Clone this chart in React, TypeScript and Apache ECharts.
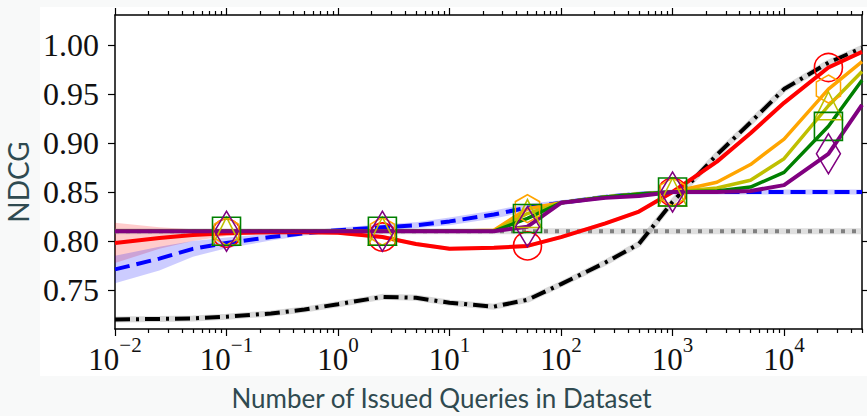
import React, { useEffect, useRef } from "react";
import * as echarts from "echarts";

// Number of issued queries (x, log scale)
const queries = [0.01, 0.025, 0.05, 0.1, 0.25, 0.5, 1, 2.5, 5, 10, 25, 50, 100, 250, 500, 1000, 2500, 5000, 10000, 25000, 50000];

// NDCG values per method
const blackVals = [0.720, 0.7205, 0.721, 0.7228, 0.726, 0.730, 0.7355, 0.743, 0.742, 0.737, 0.733, 0.740, 0.756, 0.778, 0.797, 0.840, 0.888, 0.921, 0.955, 0.982, 0.997];
const grayVals = [0.81, 0.81, 0.81, 0.81, 0.81, 0.81, 0.81, 0.81, 0.81, 0.81, 0.81, 0.81, 0.81, 0.81, 0.81, 0.81, 0.81, 0.81, 0.81, 0.81, 0.81];
const blueVals = [0.771, 0.782, 0.792, 0.798, 0.804, 0.808, 0.811, 0.814, 0.816, 0.820, 0.827, 0.834, 0.839, 0.845, 0.848, 0.850, 0.850, 0.850, 0.850, 0.850, 0.850];
const redVals = [0.798, 0.803, 0.806, 0.808, 0.809, 0.809, 0.8085, 0.804, 0.797, 0.792, 0.793, 0.795, 0.804, 0.818, 0.830, 0.850, 0.881, 0.910, 0.941, 0.977, 0.993];
const orangeVals = [0.81, 0.81, 0.81, 0.81, 0.81, 0.81, 0.81, 0.81, 0.81, 0.81, 0.811, 0.833, 0.839, 0.845, 0.848, 0.850, 0.860, 0.878, 0.904, 0.955, 0.983];
const oliveVals = [0.81, 0.81, 0.81, 0.81, 0.81, 0.81, 0.81, 0.81, 0.81, 0.81, 0.810, 0.828, 0.839, 0.845, 0.848, 0.850, 0.854, 0.862, 0.884, 0.938, 0.973];
const greenVals = [0.81, 0.81, 0.81, 0.81, 0.81, 0.81, 0.81, 0.81, 0.81, 0.81, 0.810, 0.823, 0.839, 0.845, 0.848, 0.850, 0.851, 0.855, 0.870, 0.917, 0.964];
const purpleVals = [0.81, 0.81, 0.81, 0.81, 0.81, 0.81, 0.81, 0.81, 0.81, 0.81, 0.810, 0.8146, 0.839, 0.844, 0.846, 0.850, 0.850, 0.851, 0.857, 0.889, 0.939];

// Half-widths of the shaded confidence bands
const redSpread = [0.0205, 0.011, 0.006, 0.003, 0.002, 0.002, 0.002, 0.002, 0.002, 0.002, 0.002, 0.002, 0.002, 0.002, 0.002, 0.002, 0.002, 0.002, 0.002, 0.002, 0.002];
const blueSpread = [0.014, 0.012, 0.008, 0.0055, 0.0035, 0.0025, 0.0025, 0.003, 0.003, 0.004, 0.004, 0.004, 0.0025, 0.0025, 0.0025, 0.0025, 0.0025, 0.0025, 0.0025, 0.0025, 0.0025];

// Indices of points carrying a marker
const markerIdx = [3, 7, 11, 15, 19];

// Axis ticks
const yTicks = [0.75, 0.8, 0.85, 0.9, 0.95, 1.0];
const xMajorTicks = [0.01, 0.1, 1, 10, 100, 1000, 10000];
const xMinorTicks: number[] = [];
for (let e = -2; e <= 4; e++) {
  for (let m = 2; m <= 9; m++) {
    const v = m * Math.pow(10, e);
    if (v <= 50000) xMinorTicks.push(v);
  }
}

const X_MIN = 0.01;
const X_MAX = 50000;
const Y_MIN = 0.7102;
const Y_MAX = 1.0306;

const SERIF = "Liberation Serif";
const SANS = "Lato";
const TEXT = "#111";
const LABEL = "#2f4a50";

function lineSeries(name: string, vals: number[], color: string, opts: any) {
  return {
    type: "line",
    name,
    xAxisIndex: 0,
    yAxisIndex: 0,
    silent: true,
    showAllSymbol: true,
    z: opts.z ?? 3,
    data: queries.map((q, i) => ({
      value: [q, vals[i]],
      symbol: opts.marker && markerIdx.includes(i) ? opts.marker : "none",
      symbolSize: opts.size ?? 28,
    })),
    lineStyle: { color, width: opts.width ?? 3.5, type: opts.dash ?? "solid", cap: "butt" },
    itemStyle: { color: "rgba(0,0,0,0)", borderColor: color, borderWidth: 1.6 },
  };
}

function underlay(vals: number[], color: string, width: number) {
  return {
    type: "line",
    xAxisIndex: 0,
    yAxisIndex: 0,
    silent: true,
    symbol: "none",
    z: 2,
    data: queries.map((q, i) => [q, vals[i]]),
    lineStyle: { color, width },
  };
}

function band(vals: number[], spread: number[], color: string) {
  return {
    type: "custom",
    xAxisIndex: 0,
    yAxisIndex: 0,
    silent: true,
    z: 1,
    data: [[queries[0], vals[0]]],
    renderItem: (_params: any, api: any) => {
      const pts: number[][] = [];
      for (let i = 0; i < queries.length; i++) pts.push(api.coord([queries[i], vals[i] + spread[i]]));
      for (let i = queries.length - 1; i >= 0; i--) pts.push(api.coord([queries[i], vals[i] - spread[i]]));
      return { type: "polygon", shape: { points: pts }, style: { fill: color } };
    },
  };
}

const hexagon = "path://M0,-1 L0.866,-0.5 L0.866,0.5 L0,1 L-0.866,0.5 L-0.866,-0.5 Z";

function supLabel(v: number) {
  const e = Math.round(Math.log10(v));
  const exp = e < 0 ? "\u2212" + -e : String(e);
  return "{b|10}{s|" + exp + "}";
}

function logAxis(position: string, ticks: number[], len: number, showLine: boolean, labels: boolean) {
  return {
    type: "log",
    logBase: 10,
    min: X_MIN,
    max: X_MAX,
    position,
    axisLine: { show: showLine, onZero: false, lineStyle: { color: "#000", width: 1.5 } },
    axisTick: { show: true, customValues: ticks, length: len, lineStyle: { color: "#000", width: 1.2 } },
    axisLabel: labels
      ? {
          show: true,
          customValues: xMajorTicks,
          margin: 5,
          formatter: supLabel,
          rich: {
            b: { fontFamily: SERIF, fontSize: 31, color: TEXT, lineHeight: 50 },
            s: { fontFamily: SERIF, fontSize: 21, color: TEXT, lineHeight: 20, verticalAlign: "top" },
          },
        }
      : { show: false },
    splitLine: { show: false },
    minorTick: { show: false },
    minorSplitLine: { show: false },
  };
}

export default function App() {
  const ref = useRef<HTMLDivElement>(null);

  useEffect(() => {
    if (!ref.current) return;
    const chart = echarts.init(ref.current, null, { renderer: "svg" });
    chart.setOption({
      animation: false,
      backgroundColor: "transparent",
      grid: { left: 115, right: 5, top: 15, bottom: 87, containLabel: false, outerBoundsMode: "none" },
      xAxis: [
        {
          ...logAxis("bottom", xMajorTicks, 7, true, true),
          name: "Number of Issued Queries in Dataset",
          nameLocation: "middle",
          nameGap: 58,
          nameTextStyle: { fontFamily: SANS, fontSize: 26, lineHeight: 22, color: LABEL, padding: [0, 94, 0, 0] },
        },
        logAxis("bottom", xMinorTicks, 4, false, false),
        logAxis("top", xMajorTicks, 7, true, false),
        logAxis("top", xMinorTicks, 4, false, false),
      ],
      yAxis: [
        {
          type: "value",
          min: Y_MIN,
          max: Y_MAX,
          position: "left",
          name: "NDCG",
          nameLocation: "middle",
          nameRotate: 90,
          nameGap: 79,
          nameTextStyle: { fontFamily: SANS, fontSize: 28, color: LABEL, padding: [0, 20, 0, 0] },
          axisLine: { show: true, onZero: false, lineStyle: { color: "#000", width: 1.5 } },
          axisTick: { show: true, customValues: yTicks, length: 7, lineStyle: { color: "#000", width: 1.2 } },
          axisLabel: {
            show: true,
            customValues: yTicks,
            margin: 16,
            fontFamily: SERIF,
            fontSize: 32,
            color: TEXT,
            formatter: (v: number) => v.toFixed(2),
          },
          splitLine: { show: false },
        },
        {
          type: "value",
          min: Y_MIN,
          max: Y_MAX,
          position: "right",
          axisLine: { show: true, onZero: false, lineStyle: { color: "#000", width: 1.5 } },
          axisTick: { show: true, customValues: yTicks, length: 5, lineStyle: { color: "#000", width: 1.2 } },
          axisLabel: { show: false },
          splitLine: { show: false },
        },
      ],
      series: [
        band(redVals, redSpread, "rgba(255,0,0,0.2)"),
        band(blueVals, blueSpread, "rgba(0,0,255,0.2)"),
        underlay(grayVals, "rgba(128,128,128,0.25)", 6),
        underlay(blackVals, "rgba(0,0,0,0.15)", 6),
        lineSeries("Gray", grayVals, "#808080", { dash: [4, 7], width: 4 }),
        lineSeries("Black", blackVals, "#000000", { dash: [15, 6, 3, 6], width: 4 }),
        lineSeries("Blue", blueVals, "#0000ff", { dash: [15, 7], width: 4 }),
        lineSeries("Red", redVals, "#ff0000", { marker: "circle", size: 28, width: 4 }),
        lineSeries("Orange", orangeVals, "#ffa500", { marker: hexagon, size: [24.2, 28] }),
        lineSeries("Olive", oliveVals, "#bfbf00", { marker: "triangle", size: 28 }),
        lineSeries("Green", greenVals, "#008000", { marker: "rect", size: 28 }),
        lineSeries("Purple", purpleVals, "#800080", { marker: "diamond", size: [24, 40], width: 4 }),
      ],
    });
    return () => chart.dispose();
  }, []);

  return (
    <div style={{ position: "fixed", left: 0, top: 0, width: 867, height: 416, background: "#f8f9f9" }}>
      <div style={{ position: "absolute", left: 40, top: 7, width: 827, height: 369, background: "#ffffff" }} />
      <div ref={ref} style={{ position: "absolute", left: 0, top: 0, width: 867, height: 416 }} />
    </div>
  );
}
